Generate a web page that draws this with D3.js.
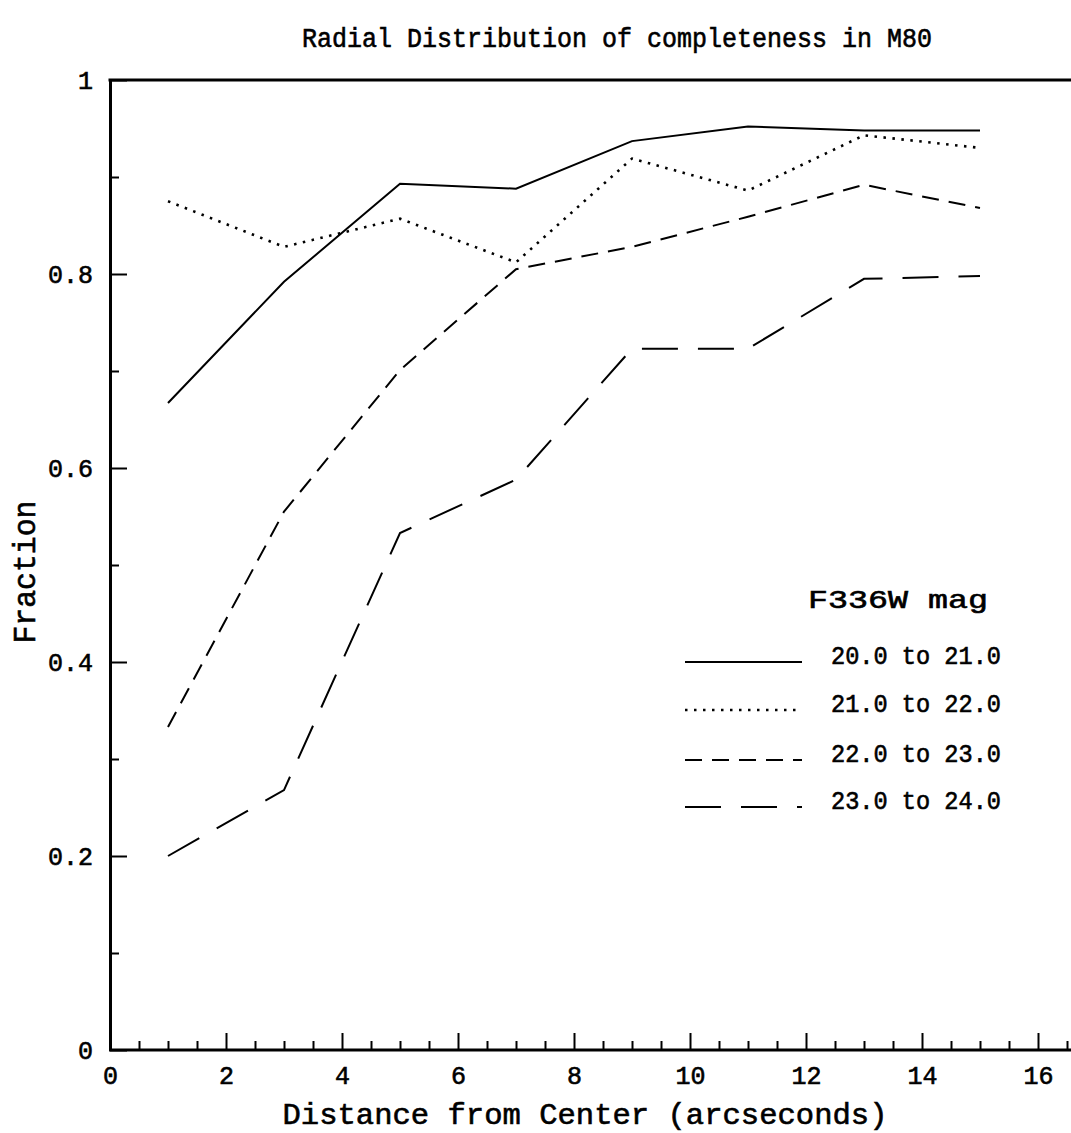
<!DOCTYPE html>
<html>
<head>
<meta charset="UTF-8">
<title>Radial Distribution of completeness in M80</title>
<script src="https://cdn.jsdelivr.net/npm/d3@7"></script>
<style>
  body { margin: 0; background: #fff; }
  svg { display: block; }
  text { font-family: "Liberation Mono", "DejaVu Sans Mono", monospace; fill: #000; stroke: #000; stroke-width: 0.6px; }
  .axis path, .axis line { stroke: #000; }
</style>
</head>
<body>
<svg width="1071" height="1133"></svg>
<script>
// data
var radius = [1, 3, 5, 7, 9, 11, 13, 15];
var mag20to21 = [0.667, 0.792, 0.893, 0.888, 0.937, 0.952, 0.948, 0.948];
var mag21to22 = [0.875, 0.828, 0.857, 0.812, 0.919, 0.886, 0.943, 0.930];
var mag22to23 = [0.333, 0.555, 0.701, 0.805, 0.828, 0.859, 0.892, 0.868];
var mag23to24 = [0.200, 0.268, 0.533, 0.588, 0.723, 0.723, 0.795, 0.798];
var seriesLabels = ["20.0 to 21.0", "21.0 to 22.0", "22.0 to 23.0", "23.0 to 24.0"];
var xTicks = [0, 2, 4, 6, 8, 10, 12, 14, 16];
var yTicks = [0, 0.2, 0.4, 0.6, 0.8, 1];

var series = [mag20to21, mag21to22, mag22to23, mag23to24];
var dashes = [null, "2.5,6.5", "17,10", "36,20"];
var widths = [2, 2.6, 2, 2];

var svg = d3.select("svg");
var plotL = 110, plotR = 1096, plotT = 80, plotB = 1050;

var x = d3.scaleLinear().domain([0, 17]).range([plotL, plotR]);
var y = d3.scaleLinear().domain([0, 1]).range([plotB, plotT]);

// minor ticks
var xMinor = d3.range(0.5, 17, 0.5).filter(function(d) { return d % 2 !== 0; });
var yMinor = [0.1, 0.3, 0.5, 0.7, 0.9];

svg.append("g").attr("class", "axis")
  .attr("transform", "translate(0," + plotB + ")")
  .call(d3.axisBottom(x).tickValues(xMinor).tickSize(-9).tickFormat(""))
  .call(function(g) { g.select(".domain").remove(); g.selectAll("line").attr("stroke-width", 2); });

svg.append("g").attr("class", "axis")
  .attr("transform", "translate(" + plotL + ",0)")
  .call(d3.axisLeft(y).tickValues(yMinor).tickSize(-9).tickFormat(""))
  .call(function(g) { g.select(".domain").remove(); g.selectAll("line").attr("stroke-width", 2); });

var xAxis = svg.append("g").attr("class", "axis")
  .attr("transform", "translate(0," + plotB + ")")
  .call(d3.axisBottom(x).tickValues(xTicks).tickSize(-17).tickSizeOuter(0).tickPadding(0)
    .tickFormat(d3.format("d")));
xAxis.select(".domain").attr("stroke-width", 3).attr("d", "M" + (plotL - 1) + ",0H1071");
xAxis.selectAll("line").attr("stroke-width", 2);
xAxis.selectAll("text").attr("y", 34).attr("dy", 0).attr("font-size", 25);

var yAxis = svg.append("g").attr("class", "axis")
  .attr("transform", "translate(" + plotL + ",0)")
  .call(d3.axisLeft(y).tickValues(yTicks).tickSize(-17).tickSizeOuter(0)
    .tickFormat(function(d) { return d === 0 || d === 1 ? d3.format("d")(d) : d3.format(".1f")(d); }));
yAxis.select(".domain").attr("stroke-width", 3);
yAxis.selectAll("line").attr("stroke-width", 2);
yAxis.selectAll("text").attr("x", -17).attr("dy", "0.35em").attr("font-size", 25);

// top frame line
svg.append("line")
  .attr("x1", plotL - 1.5).attr("x2", 1071)
  .attr("y1", y(1)).attr("y2", y(1))
  .attr("stroke", "#000").attr("stroke-width", 3);

// series lines
var line = d3.line()
  .x(function(d, i) { return x(radius[i]); })
  .y(function(d) { return y(d); });

svg.append("g").selectAll("path")
  .data(series)
  .enter().append("path")
  .attr("d", line)
  .attr("fill", "none")
  .attr("stroke", "#000")
  .attr("stroke-width", function(d, i) { return widths[i]; })
  .attr("stroke-dasharray", function(d, i) { return dashes[i]; });

// legend
var legend = svg.append("g");
legend.append("text")
  .attr("x", 808).attr("y", 608)
  .attr("font-size", 25)
  .attr("textLength", 180).attr("lengthAdjust", "spacingAndGlyphs")
  .text("F336W mag");

var rowY = [662, 710, 760, 807];
seriesLabels.forEach(function(lab, i) {
  legend.append("line")
    .attr("x1", 685).attr("x2", 802)
    .attr("y1", rowY[i]).attr("y2", rowY[i])
    .attr("stroke", "#000").attr("stroke-width", widths[i])
    .attr("stroke-dasharray", dashes[i]);
  legend.append("text")
    .attr("x", 831).attr("y", rowY[i] + 2)
    .attr("font-size", 25)
    .attr("textLength", 170).attr("lengthAdjust", "spacingAndGlyphs")
    .text(lab);
});

// titles
svg.append("text")
  .attr("x", 617).attr("y", 47)
  .attr("text-anchor", "middle")
  .attr("font-size", 27)
  .attr("textLength", 630).attr("lengthAdjust", "spacingAndGlyphs")
  .text("Radial Distribution of completeness in M80");

svg.append("text")
  .attr("x", 585).attr("y", 1124)
  .attr("text-anchor", "middle")
  .attr("font-size", 30)
  .attr("textLength", 605).attr("lengthAdjust", "spacingAndGlyphs")
  .text("Distance from Center (arcseconds)");

svg.append("text")
  .attr("transform", "translate(35,572) rotate(-90)")
  .attr("text-anchor", "middle")
  .attr("font-size", 31)
  .attr("textLength", 143).attr("lengthAdjust", "spacingAndGlyphs")
  .text("Fraction");
</script>
</body>
</html>
